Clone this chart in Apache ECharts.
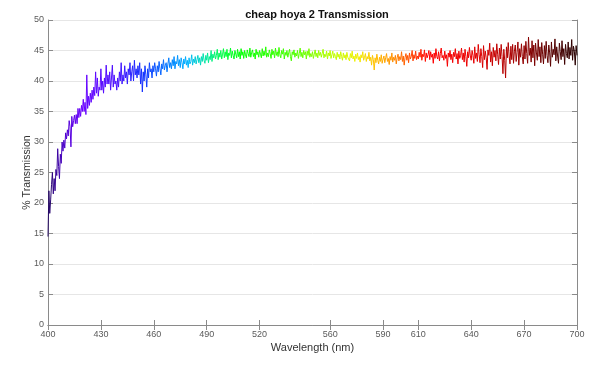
<!DOCTYPE html>
<html>
<head>
<meta charset="utf-8">
<script src="https://cdn.jsdelivr.net/npm/echarts@6/dist/echarts.min.js"></script>
<style>
html,body{margin:0;padding:0;background:#fff;}
#chart{width:600px;height:375px;}
</style>
</head>
<body>
<div id="chart"></div>
<script>
// Sampling grid of the spectrometer (nm)
const startWavelength = 400;
const stepNm = 0.5;
// % Transmission, one row per 5 nm (10 samples each)
const transmission = [
14.5, 22.0, 18.3, 20.5, 23.0, 25.0, 21.5, 24.0, 22.0, 25.5,
24.5, 28.9, 26.0, 24.0, 28.0, 26.5, 30.0, 28.5, 30.3, 29.0,
31.5, 30.5, 32.0, 31.0, 33.5, 32.5, 29.2, 34.2, 32.5, 33.5,
34.4, 33.0, 34.5, 33.0, 35.5, 34.0, 35.5, 34.2, 36.0, 35.0,
37.0, 35.0, 36.5, 34.5, 41.0, 35.5, 37.5, 36.0, 38.0, 36.5,
38.5, 37.0, 39.0, 37.6, 41.5, 38.0, 40.5, 37.5, 39.0, 38.5,
42.0, 38.5, 40.0, 38.0, 40.5, 39.0, 42.6, 39.5, 41.0, 39.5,
41.5, 38.5, 40.5, 42.6, 39.0, 41.0, 39.5, 40.0, 38.5, 40.5,
39.0, 41.5, 40.0, 43.0, 39.5, 41.0, 40.0, 42.5, 40.5, 41.5,
39.5, 42.0, 41.0, 43.0, 40.0, 41.5, 42.5, 40.0, 43.4, 41.0,
42.0, 40.5, 42.5, 41.0, 43.0, 39.5, 42.0, 38.2, 41.5, 40.0,
42.5, 41.0, 39.0, 42.0, 40.5, 43.0, 41.5, 42.0, 40.5, 42.5,
41.5, 43.0, 42.0, 40.8, 42.5, 41.5, 43.2, 42.0, 41.0, 42.8,
42.0, 43.5, 41.8, 42.5, 43.0, 41.5, 42.8, 43.8, 42.2, 43.0,
42.0, 43.5, 42.5, 44.0, 42.0, 43.2, 42.8, 44.2, 42.5, 43.5,
42.2, 43.8, 43.0, 42.0, 43.6, 42.8, 44.0, 42.6, 43.4, 42.2,
43.8, 42.8, 43.2, 44.3, 42.6, 43.6, 43.0, 44.0, 42.8, 43.5,
44.2, 43.0, 43.8, 42.6, 44.0, 43.2, 44.5, 43.4, 42.9, 44.2,
43.4, 44.6, 43.0, 44.0, 43.5, 45.0, 43.2, 44.4, 43.8, 44.8,
43.6, 44.2, 45.2, 43.5, 44.6, 43.9, 45.0, 43.6, 44.4, 45.3,
43.8, 44.8, 44.0, 45.2, 43.5, 44.6, 44.2, 45.4, 43.8, 44.9,
44.2, 43.6, 45.0, 44.4, 43.8, 45.2, 44.0, 44.8, 43.6, 45.3,
44.2, 44.8, 43.7, 45.0, 44.3, 43.8, 45.1, 44.5, 44.0, 45.4,
43.9, 44.7, 45.1, 44.0, 44.6, 43.6, 45.2, 44.3, 44.8, 43.9,
45.0, 44.4, 43.8, 45.3, 44.1, 44.9, 44.2, 45.6, 43.9, 44.6,
44.0, 45.1, 44.5, 43.7, 45.2, 44.3, 44.9, 43.8, 45.4, 44.2,
44.8, 44.0, 45.5, 44.3, 43.8, 45.0, 44.4, 45.3, 43.6, 44.7,
44.2, 45.0, 43.9, 44.6, 45.2, 44.0, 43.3, 44.8, 44.3, 45.1,
43.9, 44.6, 44.1, 45.0, 43.7, 44.5, 45.4, 44.0, 44.7, 43.8,
45.0, 44.3, 44.8, 43.6, 44.9, 44.2, 45.3, 43.9, 44.5, 44.0,
44.8, 43.7, 44.4, 45.1, 44.0, 44.6, 43.8, 45.0, 44.2, 44.7,
43.9, 44.5, 45.2, 43.8, 44.4, 44.0, 44.9, 43.6, 44.6, 44.1,
45.0, 43.7, 44.3, 44.9, 43.8, 44.5, 44.0, 43.5, 44.7, 43.9,
44.4, 43.6, 44.8, 44.0, 43.4, 44.6, 43.8, 44.3, 43.5, 44.7,
43.9, 44.2, 43.3, 44.5, 43.8, 44.9, 43.6, 44.1, 43.2, 44.4,
43.7, 44.6, 43.5, 44.0, 43.1, 44.3, 43.8, 44.8, 43.4, 43.9,
44.5, 43.2, 44.0, 43.6, 44.7, 43.3, 43.9, 42.6, 44.2, 43.5,
41.8, 43.8, 43.0, 44.4, 43.4, 42.8, 43.9, 43.2, 44.3, 42.9,
43.6, 44.1, 43.0, 43.8, 44.5, 43.2, 43.7, 42.7, 44.0, 43.4,
44.6, 43.1, 43.9, 43.4, 44.2, 42.8, 43.8, 44.4, 43.3, 44.0,
43.5, 44.8, 43.2, 44.1, 42.6, 43.9, 44.5, 43.4, 44.2, 43.0,
44.6, 43.6, 44.0, 45.0, 43.3, 44.3, 43.7, 44.9, 43.5, 44.1,
43.6, 44.7, 43.9, 45.2, 43.4, 44.4, 44.0, 45.1, 43.2, 44.6,
43.8, 44.3, 45.0, 43.5, 44.8, 43.9, 44.4, 42.9, 44.6, 43.7,
45.3, 44.0, 43.6, 44.8, 43.3, 44.5, 45.4, 43.8, 44.2, 43.4,
44.9, 43.7, 44.3, 42.4, 44.6, 43.9, 45.0, 43.5, 44.4, 43.0,
44.7, 44.0, 45.3, 43.6, 44.5, 42.8, 44.9, 43.7, 44.2, 45.4,
43.5, 44.6, 43.1, 45.2, 44.0, 42.4, 44.8, 43.8, 45.5, 44.1,
43.4, 45.0, 44.2, 42.9, 45.6, 43.7, 44.6, 43.2, 46.0, 44.3,
43.0, 45.3, 44.0, 42.2, 45.8, 43.5, 44.9, 43.8, 41.9, 45.1,
44.2, 46.2, 43.1, 44.8, 42.5, 45.5, 43.9, 45.0, 43.3, 46.1,
44.4, 42.7, 45.4, 43.6, 46.0, 44.0, 41.2, 45.2, 43.4, 40.5,
45.6, 43.8, 46.3, 44.1, 42.8, 45.7, 43.5, 46.0, 42.9, 44.9,
45.9, 43.2, 44.7, 46.4, 42.6, 45.3, 43.9, 46.1, 44.0, 42.8,
45.8, 43.6, 46.5, 44.5, 42.9, 47.2, 44.2, 45.4, 43.1, 46.6,
43.8, 45.9, 42.5, 46.2, 44.6, 43.4, 46.8, 44.0, 45.6, 43.0,
46.3, 44.4, 42.8, 45.8, 43.7, 46.5, 44.2, 43.0, 45.9, 44.6,
42.4, 46.4, 43.9, 45.2, 44.3, 46.9, 43.3, 45.6, 44.1, 42.9,
46.2, 44.8, 43.5, 46.6, 44.0, 45.3, 42.7, 46.0, 44.5, 43.8,
46.4, 43.6, 45.5, 44.2, 46.8, 43.4, 45.7, 44.9, 42.6, 45.8,
44.2
];
const xTickValues = [400, 430, 460, 490, 520, 560, 590, 610, 640, 670, 700];
const xMin = 400, xMax = 700;
const yMin = 0, yMax = 50, yStep = 5;
// wavelength -> display colour stops
const spectrumNm = [400, 410, 420, 440, 455, 470, 480, 490, 500, 510, 540, 560, 575, 585, 595, 605, 615, 640, 660, 680, 700];
const spectrumColors = ['#1c0850', '#4a00c8', '#6a00ff', '#4a10ff', '#1030ff', '#0080ff', '#00b4ff', '#00e8a0', '#00ff40', '#00ff00', '#50ff00', '#b8ff00', '#f0f000', '#ffc000', '#ff9000', '#ff4800', '#ff0000', '#e80000', '#b00000', '#680000', '#200000'];

const data = transmission.map((v, i) => [startWavelength + i * stepNm, v]);
const stops = spectrumNm.map((w, i) => ({ offset: (w - xMin) / (xMax - xMin), color: spectrumColors[i] }));

const chart = echarts.init(document.getElementById('chart'), null, { renderer: 'canvas' });
const fontFam = '"Liberation Sans", Arial, Helvetica, sans-serif';
const axisCol = '#8a8a8a';
const labelCol = '#5a5a5a';
chart.setOption({
  animation: false,
  backgroundColor: '#fff',
  title: {
    text: 'cheap hoya 2 Transmission',
    left: 312, top: 4, textAlign: 'center',
    textStyle: { fontSize: 11, fontWeight: 'bold', color: '#111', fontFamily: fontFam }
  },
  grid: { left: 48, right: 23, top: 20, bottom: 50, containLabel: false },
  xAxis: [{
    type: 'value', min: xMin, max: xMax,
    name: 'Wavelength (nm)', nameLocation: 'middle', nameGap: 17,
    nameMoveOverlap: false,
    nameTextStyle: { fontSize: 11, color: '#333', fontFamily: fontFam },
    axisLine: { lineStyle: { color: axisCol, width: 1 } },
    axisTick: { inside: true, length: 5, customValues: xTickValues, lineStyle: { color: axisCol } },
    axisLabel: { customValues: xTickValues, fontSize: 9, color: labelCol, margin: 5, fontFamily: fontFam },
    splitLine: { show: false }
  }, {
    type: 'value', min: xMin, max: xMax, position: 'top',
    axisLine: { show: true, lineStyle: { color: axisCol, width: 1 } },
    axisTick: { inside: true, length: 5, customValues: xTickValues, lineStyle: { color: axisCol } },
    axisLabel: { show: false },
    splitLine: { show: false }
  }],
  yAxis: [{
    type: 'value', min: yMin, max: yMax, interval: yStep,
    name: '% Transmission', nameLocation: 'middle', nameGap: 15,
    nameMoveOverlap: false,
    nameTextStyle: { fontSize: 10.5, color: '#333', fontFamily: fontFam },
    axisLine: { show: true, lineStyle: { color: axisCol, width: 1 } },
    axisTick: { show: true, inside: true, length: 5, lineStyle: { color: axisCol } },
    axisLabel: { fontSize: 9, color: labelCol, margin: 4, fontFamily: fontFam },
    splitLine: { show: true, lineStyle: { color: '#e6e6e6', width: 1 } }
  }, {
    type: 'value', min: yMin, max: yMax, interval: yStep, position: 'right',
    axisLine: { show: true, lineStyle: { color: axisCol, width: 1 } },
    axisTick: { show: true, inside: true, length: 5, lineStyle: { color: axisCol } },
    axisLabel: { show: false },
    splitLine: { show: false }
  }],
  series: [{
    type: 'line',
    xAxisIndex: 0, yAxisIndex: 0,
    data: data,
    showSymbol: false,
    symbol: 'none',
    sampling: null,
    lineStyle: {
      width: 1,
      color: new echarts.graphic.LinearGradient(0, 0, 1, 0, stops)
    }
  }]
});
</script>
</body>
</html>
